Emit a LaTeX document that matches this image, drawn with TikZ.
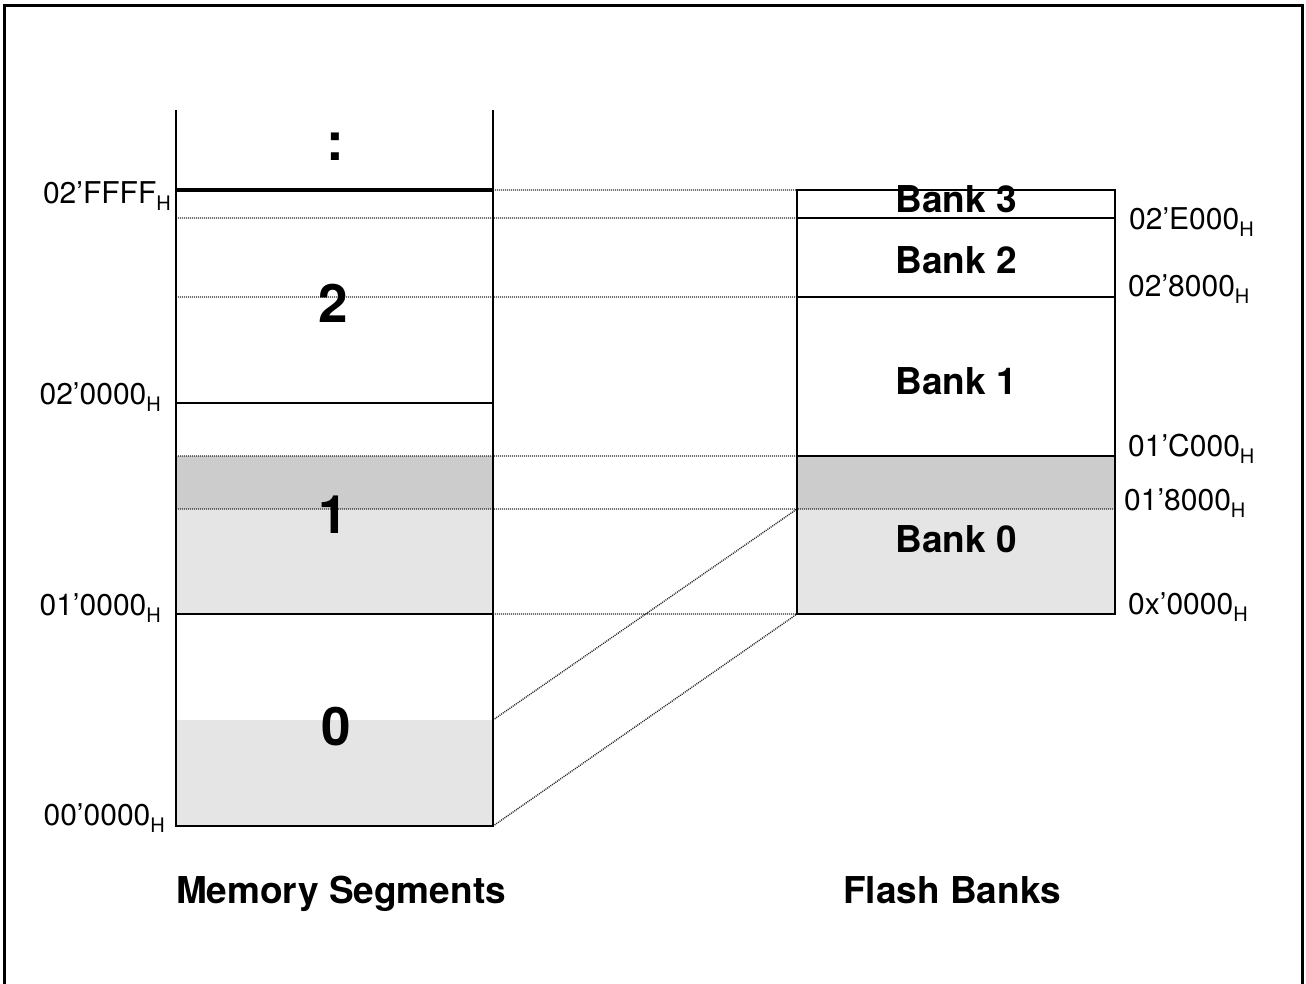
\documentclass[tikz,border=0pt]{standalone}
\usepackage{fontspec}
\setmainfont{TeX Gyre Heros}
\usepackage{tikz}

\newcommand{\hsub}{\raisebox{-7pt}{\fontsize{20}{20}\selectfont H}}

\tikzset{
  addr/.style={font=\fontsize{30}{32}\selectfont, inner sep=0pt},
  banklbl/.style={font=\fontsize{37}{40}\selectfont\bfseries, inner sep=0pt, anchor=base},
  segno/.style={font=\fontsize{53}{56}\selectfont\bfseries, inner sep=0pt, anchor=base},
  segline/.style={line width=2.2pt},
  mapline/.style={line width=1.4pt, black!85, dash pattern=on 1pt off 1pt},
  darkfill/.style={fill=black!20},
  lightfill/.style={fill=black!10}
}

\begin{document}
\begin{tikzpicture}[x=1pt,y=-1pt]
  \useasboundingbox (0,0) rectangle (1306,984);
  \draw[line width=3pt] (4.5,984) -- (4.5,5.5) -- (1302,5.5) -- (1302,984);

  % address levels: L/R = segment column, B/E = flash banks
  \foreach \n/\y in {top/110, fff/190, e00/218, 280/297, 200/403, 1c0/456, 180/509, 100/614, 080/720, 000/826} {
    \coordinate (L-\n) at (176,\y);
    \coordinate (R-\n) at (493,\y);
    \coordinate (B-\n) at (797,\y);
    \coordinate (E-\n) at (1115,\y);
  }

  \fill[darkfill] (L-1c0) rectangle (R-180);
  \fill[darkfill] (B-1c0) rectangle (E-180);
  \fill[lightfill] (L-180) rectangle (R-100);
  \fill[lightfill] (B-180) rectangle (E-100);
  \fill[lightfill] (L-080) rectangle (R-000);

  \draw[mapline] (R-fff) -- (B-fff) (L-e00) -- (B-e00) (L-280) -- (B-280)
    (L-1c0) -- (B-1c0) (L-180) -- (E-180) (R-100) -- (B-100)
    (R-080) -- (B-180) (R-000) -- (B-100);

  \draw[segline] (L-top) -- (L-000) -- (R-000) -- (R-top);
  \draw[line width=3.5pt] (L-fff) -- (R-fff);
  \draw[segline] (L-200) -- (R-200) (L-100) -- (R-100);
  \draw[segline] (B-fff) rectangle (E-100);
  \draw[segline] (B-e00) -- (E-e00) (B-280) -- (E-280) (B-1c0) -- (E-1c0);

  \node[segno] (seg-more) at (335,161) {:};
  \node[segno] (seg-2) at (333,323) {2};
  \node[segno] (seg-1) at (333,533) {1};
  \node[segno] (seg-0) at (336,745) {0};

  \node[banklbl] (bank-3) at (956,213) {Bank 3};
  \node[banklbl] (bank-2) at (956,274) {Bank 2};
  \node[banklbl] (bank-1) at (956,394) {Bank 1};
  \node[banklbl] (bank-0) at (956,552) {Bank 0};

  \node[addr, anchor=base east] (adr-fff) at (171,204) {02’FFFF\hsub};
  \node[addr, anchor=base east] (adr-200) at (161,404) {02’0000\hsub};
  \node[addr, anchor=base east] (adr-100) at (161,615) {01’0000\hsub};
  \node[addr, anchor=base east] (adr-000) at (165,825) {00’0000\hsub};

  \node[addr, anchor=base west] (adr-e00) at (1129,230) {02’E000\hsub};
  \node[addr, anchor=base west] (adr-280) at (1128,297) {02’8000\hsub};
  \node[addr, anchor=base west] (adr-1c0) at (1128,456) {01’C000\hsub};
  \node[addr, anchor=base west] (adr-180) at (1124,510) {01’8000\hsub};
  \node[addr, anchor=base west] (adr-0x0) at (1128,614) {0x’0000\hsub};

  \node[banklbl] (cap-seg) at (341,903) {Memory Segments};
  \node[banklbl] (cap-flash) at (952,903) {Flash Banks};
\end{tikzpicture}
\end{document}
